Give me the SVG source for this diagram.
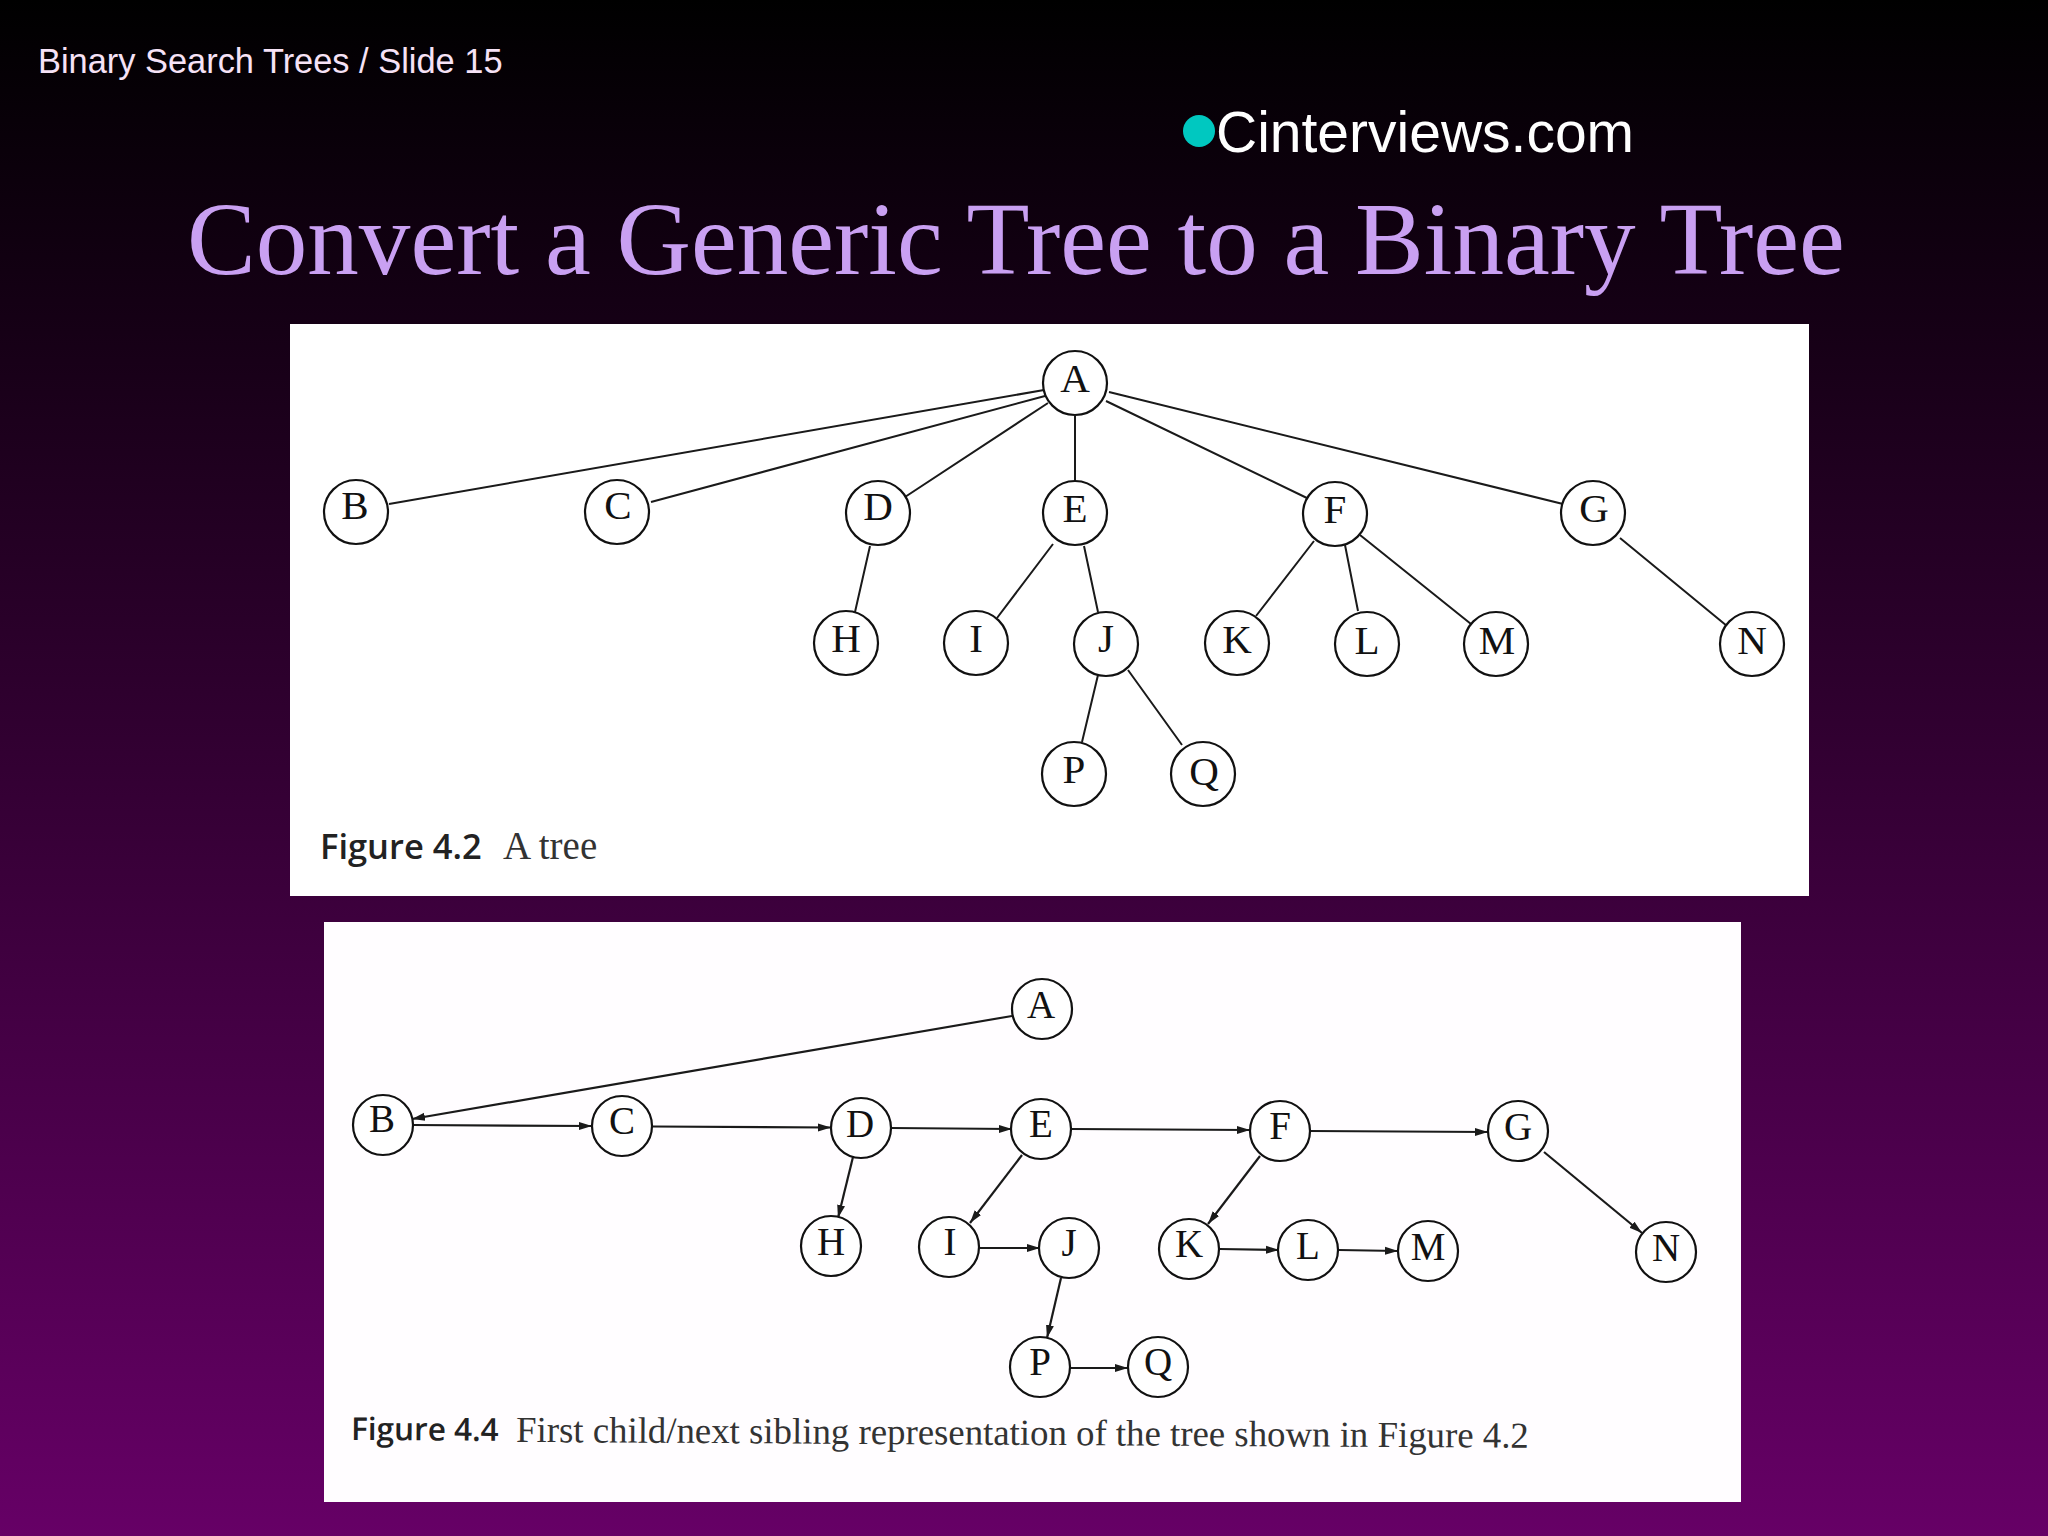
<svg xmlns="http://www.w3.org/2000/svg" width="2048" height="1536" viewBox="0 0 2048 1536">
<style>
.n{fill:#fff;stroke:#111;stroke-width:2.2}
.t{font-family:"Liberation Serif",serif;fill:#111;text-anchor:middle}
.t1{font-size:41px}.t2{font-size:39px}
.e{stroke:#1a1a1a;stroke-width:2;fill:none}
.a{stroke:#1a1a1a;stroke-width:2.2;fill:none;marker-end:url(#ah)}
.cb{font-family:"Open Sans","Noto Sans",sans-serif;font-weight:600;fill:#222}
.cs{font-family:"Liberation Serif",serif;fill:#333}
</style>
<defs>
<linearGradient id="bg" x1="0" y1="0" x2="0" y2="1"><stop offset="0" stop-color="#000"/><stop offset="1" stop-color="#660066"/></linearGradient>
<marker id="ah" markerUnits="userSpaceOnUse" markerWidth="14" markerHeight="10" refX="13" refY="5" orient="auto"><path d="M0 1L13 5L0 9Z" fill="#1a1a1a"/></marker>
</defs>
<rect width="2048" height="1536" fill="url(#bg)"/>
<text x="38" y="73" font-family="'Liberation Sans',sans-serif" font-size="34.400" fill="#f6e2f6">Binary Search Trees / Slide 15</text>
<circle cx="1199" cy="131" r="16" fill="#00c8c0"/>
<text x="1216" y="152" font-family="'Liberation Sans',sans-serif" font-size="57" fill="#fff">Cinterviews.com</text>
<text x="187" y="274" font-family="'Liberation Serif',serif" font-size="103.100" fill="#c9a0f2">Convert a Generic Tree to a Binary Tree</text>
<rect id="panel1" x="290" y="324" width="1519" height="572" fill="#fff"/>
<rect id="panel2" x="324" y="922" width="1417" height="580" fill="#fffdff"/>
<g id="connectors1">
<path class="e" d="M1044 390L389 504M1045 396L651 502M1048 403L905 497M1075 416V482M1106 401L1309 499M1109 392L1563 504M870 546L855 612M1053 544L997 618M1084 546L1098 612M1098 675L1082 742M1128 670L1182 745M1314 541L1256 616M1345 545L1358 611M1360 535L1471 624M1620 538L1727 626"/>
</g>
<g id="connectors2">
<path class="a" d="M1012 1016L412 1119"/><path class="a" d="M412 1125L592 1126"/><path class="a" d="M653 1126.500L831 1127.500"/><path class="a" d="M891 1128L1012 1129"/><path class="a" d="M1072 1129L1250 1130"/><path class="a" d="M1310 1131L1488 1132"/>
<path class="a" d="M853 1157L838 1218"/><path class="a" d="M1022 1155L970 1223"/><path class="a" d="M980 1248L1040 1248"/><path class="a" d="M1061 1278L1047 1338"/><path class="a" d="M1070 1368L1128 1368"/><path class="a" d="M1260 1156L1208 1224"/><path class="a" d="M1220 1249L1279 1250"/><path class="a" d="M1339 1250L1398 1251"/><path class="a" d="M1544 1152L1642 1233"/>
</g>
<g id="t1-A"><circle class="n" cx="1075" cy="383" r="32"/><text class="t t1" x="1075" y="392">A</text></g>
<g id="t1-B"><circle class="n" cx="356" cy="512" r="32"/><text class="t t1" x="355" y="519">B</text></g>
<g id="t1-C"><circle class="n" cx="617" cy="512" r="32"/><text class="t t1" x="618" y="519">C</text></g>
<g id="t1-D"><circle class="n" cx="878" cy="513" r="32"/><text class="t t1" x="878" y="520">D</text></g>
<g id="t1-E"><circle class="n" cx="1075" cy="513" r="32"/><text class="t t1" x="1075" y="522">E</text></g>
<g id="t1-F"><circle class="n" cx="1335" cy="514" r="32"/><text class="t t1" x="1335" y="523">F</text></g>
<g id="t1-G"><circle class="n" cx="1593" cy="513" r="32"/><text class="t t1" x="1594" y="522">G</text></g>
<g id="t1-H"><circle class="n" cx="846" cy="643" r="32"/><text class="t t1" x="846" y="652">H</text></g>
<g id="t1-I"><circle class="n" cx="976" cy="643" r="32"/><text class="t t1" x="976" y="652">I</text></g>
<g id="t1-J"><circle class="n" cx="1106" cy="644" r="32"/><text class="t t1" x="1106" y="652">J</text></g>
<g id="t1-K"><circle class="n" cx="1237" cy="643" r="32"/><text class="t t1" x="1237" y="653">K</text></g>
<g id="t1-L"><circle class="n" cx="1367" cy="644" r="32"/><text class="t t1" x="1367" y="654">L</text></g>
<g id="t1-M"><circle class="n" cx="1496" cy="644" r="32"/><text class="t t1" x="1497" y="654">M</text></g>
<g id="t1-N"><circle class="n" cx="1752" cy="644" r="32"/><text class="t t1" x="1752" y="654">N</text></g>
<g id="t1-P"><circle class="n" cx="1074" cy="774" r="32"/><text class="t t1" x="1074" y="783">P</text></g>
<g id="t1-Q"><circle class="n" cx="1203" cy="774" r="32"/><text class="t t1" x="1204" y="785">Q</text></g>
<g id="t2-A"><circle class="n" cx="1042" cy="1009" r="30"/><text class="t t2" x="1041" y="1018">A</text></g>
<g id="t2-B"><circle class="n" cx="383" cy="1125" r="30"/><text class="t t2" x="382" y="1132">B</text></g>
<g id="t2-C"><circle class="n" cx="622" cy="1126" r="30"/><text class="t t2" x="622" y="1134">C</text></g>
<g id="t2-D"><circle class="n" cx="861" cy="1128" r="30"/><text class="t t2" x="860" y="1137">D</text></g>
<g id="t2-E"><circle class="n" cx="1041" cy="1129" r="30"/><text class="t t2" x="1041" y="1137">E</text></g>
<g id="t2-F"><circle class="n" cx="1280" cy="1131" r="30"/><text class="t t2" x="1280" y="1139">F</text></g>
<g id="t2-G"><circle class="n" cx="1518" cy="1131" r="30"/><text class="t t2" x="1518" y="1140">G</text></g>
<g id="t2-H"><circle class="n" cx="831" cy="1246" r="30"/><text class="t t2" x="831" y="1255">H</text></g>
<g id="t2-I"><circle class="n" cx="949" cy="1247" r="30"/><text class="t t2" x="950" y="1255">I</text></g>
<g id="t2-J"><circle class="n" cx="1069" cy="1248" r="30"/><text class="t t2" x="1069" y="1256">J</text></g>
<g id="t2-K"><circle class="n" cx="1189" cy="1249" r="30"/><text class="t t2" x="1189" y="1257">K</text></g>
<g id="t2-L"><circle class="n" cx="1308" cy="1250" r="30"/><text class="t t2" x="1308" y="1259">L</text></g>
<g id="t2-M"><circle class="n" cx="1428" cy="1251" r="30"/><text class="t t2" x="1428" y="1260">M</text></g>
<g id="t2-N"><circle class="n" cx="1666" cy="1252" r="30"/><text class="t t2" x="1666" y="1261">N</text></g>
<g id="t2-P"><circle class="n" cx="1040" cy="1367" r="30"/><text class="t t2" x="1040" y="1375">P</text></g>
<g id="t2-Q"><circle class="n" cx="1158" cy="1367" r="30"/><text class="t t2" x="1158" y="1375">Q</text></g>
<text class="cb" x="320" y="859" font-size="34.500">Figure 4.2</text>
<text class="cs" x="503" y="859" font-size="39">A tree</text>
<g transform="rotate(0.33 352 1440)">
<text class="cb" x="351" y="1440" font-size="31.500">Figure 4.4</text>
<text class="cs" x="516" y="1441" font-size="36.800">First child/next sibling representation of the tree shown in Figure 4.2</text>
</g>
</svg>
